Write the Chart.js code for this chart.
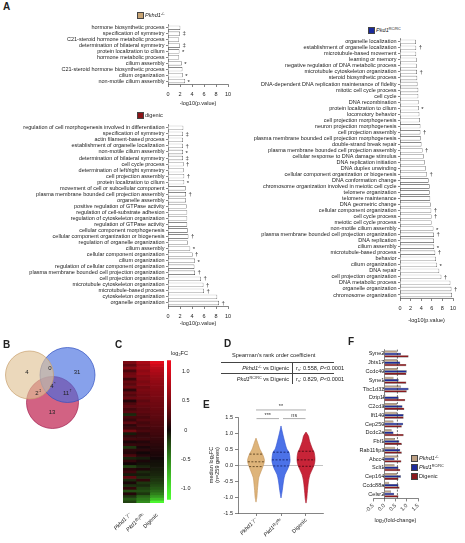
<!DOCTYPE html>
<html>
<head>
<meta charset="utf-8">
<script src="https://cdn.jsdelivr.net/npm/chart.js@4"></script>
<style>
body { margin: 0; background: #fff; }
#fig { position: relative; width: 465px; height: 543px; overflow: hidden; font-family: 'Liberation Sans', Arial, sans-serif; color: #222; }
#fig canvas { position: absolute; }
.lt { position: absolute; font-weight: bold; font-size: 10px; line-height: 10px; }
.tx { position: absolute; font-size: 5.6px; line-height: 6px; white-space: nowrap; }
.tx sup { font-size: 3.8px; line-height: 0; vertical-align: 2px; }
.tx sub { font-size: 3.8px; line-height: 0; vertical-align: -1px; }
.sw { position: absolute; width: 5px; height: 5px; border: 0.6px solid #444; }
.hl { position: absolute; height: 0; border-top: 0.6px solid #444; }
.vl { position: absolute; width: 0; border-left: 0.6px solid #444; }
</style>
</head>
<body>
<div id="fig">
  <canvas id="cPkhd1" width="240" height="87" style="left:0;top:20px"></canvas>
  <canvas id="cDigenic" width="240" height="207" style="left:0;top:120px"></canvas>
  <canvas id="cPkd1" width="225" height="290" style="left:240px;top:34px"></canvas>
  <canvas id="cVenn" width="110" height="95" style="left:0;top:340px"></canvas>
  <canvas id="cHeat" width="60" height="188" style="left:110px;top:355px"></canvas>
  <canvas id="cScale" width="31" height="150" style="left:160px;top:355px"></canvas>
  <canvas id="cViolin" width="130" height="143" style="left:200px;top:400px"></canvas>
  <canvas id="cGenes" width="125" height="184" style="left:340px;top:340px"></canvas>

  <div class="lt" style="left:3px;top:2px">A</div>
  <div class="lt" style="left:3px;top:340px">B</div>
  <div class="lt" style="left:115px;top:340px">C</div>
  <div class="lt" style="left:224px;top:339px">D</div>
  <div class="lt" style="left:203px;top:400px">E</div>
  <div class="lt" style="left:348px;top:337px">F</div>

  <!-- legendas panel A -->
  <div class="sw" style="left:137px;top:12px;background:#c8a474"></div>
  <div class="tx" style="left:145px;top:12px"><i>Pkhd1</i><sup>-/-</sup></div>
  <div class="sw" style="left:137px;top:112px;background:#8b1518"></div>
  <div class="tx" style="left:145px;top:112px">digenic</div>
  <div class="sw" style="left:368px;top:27px;background:#1a2a9c"></div>
  <div class="tx" style="left:376px;top:27px"><i>Pkd1</i><sup>RC/RC</sup></div>

  <!-- escala del heatmap -->
  <div class="tx" style="left:171px;top:350px">log<sub>2</sub>FC</div>

  <!-- tabla D -->
  <div class="tx" style="left:232px;top:352px">Spearman's rank order coefficient</div>
  <div class="hl" style="left:221px;top:362px;width:113px"></div>
  <div class="hl" style="left:221px;top:373px;width:113px"></div>
  <div class="vl" style="left:292px;top:362px;height:22px"></div>
  <div class="tx" style="left:221px;top:365px;width:68px;text-align:right"><i>Pkhd1</i><sup>-/-</sup> vs Digenic</div>
  <div class="tx" style="left:296px;top:365px">r<sub>s</sub>: 0.558, <i>P</i>&lt;0.0001</div>
  <div class="tx" style="left:221px;top:376px;width:68px;text-align:right"><i>Pkd1</i><sup>RC/RC</sup> vs Digenic</div>
  <div class="tx" style="left:296px;top:376px">r<sub>s</sub>: 0.829, <i>P</i>&lt;0.0001</div>

  <!-- leyenda F -->
  <div class="sw" style="left:411px;top:455px;background:#bda084"></div>
  <div class="tx" style="left:419px;top:455px"><i>Pkhd1</i><sup>-/-</sup></div>
  <div class="sw" style="left:411px;top:464px;background:#1e2c9a"></div>
  <div class="tx" style="left:419px;top:464px"><i>Pkd1</i><sup>RC/RC</sup></div>
  <div class="sw" style="left:411px;top:473px;background:#8a1a1e"></div>
  <div class="tx" style="left:419px;top:473px">Digenic</div>
</div>

<script>
const FONT = "'Liberation Sans', Arial, sans-serif";
Chart.defaults.font.family = FONT;
Chart.defaults.font.size = 5.5;
Chart.defaults.color = '#222';
Chart.defaults.animation = false;
Chart.defaults.responsive = false;
Chart.defaults.plugins.legend.display = false;
Chart.defaults.plugins.tooltip.enabled = false;

// --- DATOS PANEL A (-log10 p) ---
const pkhd1Terms = ['hormone biosynthetic process', 'specification of symmetry', 'C21-steroid hormone metabolic process',
  'determination of bilateral symmetry', 'protein localization to cilium', 'hormone metabolic process', 'cilium assembly',
  'C21-steroid hormone biosynthetic process', 'cilium organization', 'non-motile cilium assembly'];
const pkhd1Values = [2.05, 2.0, 1.85, 2.0, 1.9, 1.85, 2.3, 2.4, 2.45, 2.85];
const pkhd1Marks = ['', '‡', '', '‡', '*', '', '*', '', '*', '*'];

const digenicTerms = ['regulation of cell morphogenesis involved in differentiation', 'specification of symmetry',
  'actin filament-based process', 'establishment of organelle localization', 'non-motile cilium assembly',
  'determination of bilateral symmetry', 'cell cycle process', 'determination of left/right symmetry',
  'cell projection assembly', 'protein localization to cilium', 'movement of cell or subcellular component',
  'plasma membrane bounded cell projection assembly', 'organelle assembly', 'positive regulation of GTPase activity',
  'regulation of cell-substrate adhesion', 'regulation of cytoskeleton organization', 'regulation of GTPase activity',
  'cellular component morphogenesis', 'cellular component organization or biogenesis', 'regulation of organelle organization',
  'cilium assembly', 'cellular component organization', 'cilium organization', 'regulation of cellular component organization',
  'plasma membrane bounded cell projection organization', 'cell projection organization', 'microtubule cytoskeleton organization',
  'microtubule-based process', 'cytoskeleton organization', 'organelle organization'];
const digenicValues = [2.55, 2.5, 2.5, 2.5, 2.5, 2.5, 2.6, 2.6, 2.7, 2.7, 2.95, 3.0, 3.0, 3.1, 3.2, 3.2, 3.2, 3.3, 3.4, 3.3,
  3.7, 4.1, 4.5, 4.4, 4.5, 5.5, 5.9, 6.0, 8.2, 8.5];
const digenicMarks = ['', '‡', '', '†', '*', '‡', '†', '', '†', '*', '', '†', '', '', '', '', '', '', '†', '',
  '*', '†', '*', '', '†', '†', '†', '†', '', '†'];

const pkd1Terms = ['organelle localization', 'establishment of organelle localization', 'microtubule-based movement',
  'learning or memory', 'negative regulation of DNA metabolic process', 'microtubule cytoskeleton organization',
  'steroid biosynthetic process', 'DNA-dependent DNA replication maintenance of fidelity', 'mitotic cell cycle process',
  'cell cycle', 'DNA recombination', 'protein localization to cilium', 'locomotory behavior', 'cell projection morphogenesis',
  'neuron projection morphogenesis', 'cell projection assembly', 'plasma membrane bounded cell projection morphogenesis',
  'double-strand break repair', 'plasma membrane bounded cell projection assembly', 'cellular response to DNA damage stimulus',
  'DNA replication initiation', 'DNA duplex unwinding', 'cellular component organization or biogenesis',
  'DNA conformation change', 'chromosome organization involved in meiotic cell cycle', 'telomere organization',
  'telomere maintenance', 'DNA geometric change', 'cellular component organization', 'cell cycle process',
  'meiotic cell cycle process', 'non-motile cilium assembly', 'plasma membrane bounded cell projection organization',
  'DNA replication', 'cilium assembly', 'microtubule-based process', 'behavior', 'cilium organization', 'DNA repair',
  'cell projection organization', 'DNA metabolic process', 'organelle organization', 'chromosome organization'];
const pkd1Values = [3.0, 3.05, 3.05, 3.15, 3.15, 3.2, 3.25, 3.3, 3.45, 3.45, 3.5, 3.55, 3.65, 3.75, 3.85, 3.85, 3.9,
  4.05, 4.25, 4.5, 4.7, 4.9, 5.1, 5.4, 5.6, 5.6, 5.7, 5.8, 5.9, 5.95, 5.95, 6.3, 6.4, 6.4, 6.45, 6.65, 6.8, 7.0, 7.4,
  7.8, 9.5, 9.7, 9.8];
const pkd1Marks = ['', '†', '', '', '', '†', '', '', '', '', '', '*', '', '', '', '†', '', '', '†', '', '', '', '†', '',
  '', '', '', '', '†', '†', '', '*', '†', '', '*', '†', '', '*', '', '†', '', '†', ''];

// --- DATOS PANEL B (Venn) ---
const vennNames = ['Pkhd1', 'Pkd1', 'Digenic'];
const vennCx = [29.5, 67.5, 52.5];
const vennCy = [60, 60, 32.5];
const vennR = [24, 27.5, 26];
const vennCounts = ['4', '0', '31', '4', '2', '11', '13'];
const vennMarks = ['', '', '', '*', '‡', '†', ''];
const vennLabelX = [27, 50, 77, 52, 37, 66, 52];
const vennLabelY = [63, 67, 63, 49, 42, 42, 23];

// --- DATOS PANEL C (log2FC, ordenado por digenic) ---
const heatColumns = ['Pkhd1⁻/⁻', 'Pkd1ᴿᶜ/ᴿᶜ', 'Digenic'];
const heatPkhd1 = [0.45, 0.3, 0.5, 0.2, 0.38, 0.42, 0.15, 0.35, 0.28, 0.4, 0.1, 0.32, 0.25, 0.36, 0.05, 0.22, 0.3, 0.18,
  0.27, -0.1, 0.2, 0.12, 0.3, 0.08, 0.15, 0.4, -0.05, 0.1, 0.18, 0.02, 0.12, -0.15, 0.08, 0.05, 0.2, -0.08, 0.1, 0.0,
  -0.2, 0.06, 0.15, -0.05, 0.3, -0.1, 0.02, -0.12, 0.1, -0.25, 0.05, -0.15, -0.3, -0.2];
const heatPkd1 = [0.7, 0.6, 0.65, 0.55, 0.6, 0.5, 0.52, 0.45, 0.5, 0.4, 0.45, 0.42, 0.38, 0.4, 0.3, 0.36, 0.32, 0.28, 0.3,
  0.25, 0.2, 0.26, 0.18, 0.22, 0.15, 0.2, 0.1, 0.12, 0.15, 0.05, 0.1, 0.02, 0.08, 0.0, 0.05, -0.05, 0.02, -0.02, -0.08,
  0.03, -0.1, -0.05, -0.12, 0.1, -0.15, -0.1, -0.2, -0.25, -0.15, -0.35, -0.45, -0.55];
const heatDigenic = [1.05, 0.92, 0.82, 0.75, 0.7, 0.65, 0.61, 0.58, 0.55, 0.52, 0.5, 0.48, 0.46, 0.43, 0.41, 0.39, 0.37,
  0.35, 0.33, 0.31, 0.29, 0.27, 0.25, 0.23, 0.2, 0.18, 0.16, 0.14, 0.12, 0.1, 0.08, 0.06, 0.05, 0.03, 0.02, 0.0, -0.01,
  -0.02, -0.03, -0.05, -0.07, -0.09, -0.12, -0.15, -0.19, -0.24, -0.3, -0.38, -0.48, -0.62, -0.8, -1.1];
const scaleTicks = [-1, -0.5, 0, 0.5, 1];

// --- DATOS PANEL E (violines) ---
const eGroups = ['Pkhd1⁻/⁻', 'Pkd1ᴿᶜ/ᴿᶜ', 'Digenic'];
const tanLevels = [0.84, 0.75, 0.6, 0.5, 0.34, 0.15, 0.0, -0.2, -0.4, -0.6, -0.8, -1.0, -1.16];
const tanDensity = [0, 0.12, 0.3, 0.42, 0.72, 0.94, 0.83, 0.56, 0.3, 0.22, 0.15, 0.1, 0];
const blueLevels = [1.22, 1.1, 1.0, 0.75, 0.5, 0.4, 0.2, 0.1, -0.1, -0.3, -0.5, -0.8, -1.03];
const blueDensity = [0, 0.09, 0.17, 0.39, 0.64, 0.89, 1.0, 1.0, 0.78, 0.44, 0.28, 0.14, 0];
const redLevels = [1.03, 0.9, 0.75, 0.5, 0.4, 0.2, 0.05, -0.1, -0.3, -0.5, -0.7, -0.9, -1.05, -1.19];
const redDensity = [0, 0.28, 0.4, 0.72, 0.9, 1.0, 0.95, 0.75, 0.44, 0.28, 0.2, 0.13, 0.09, 0];
const eQ1 = [-0.05, -0.03, -0.04];
const eMedian = [0.1, 0.16, 0.16];
const eQ3 = [0.34, 0.4, 0.43];
const eSig = [['**', 1, 3, 1.72], ['***', 1.02, 1.92, 1.45], ['ns', 2.08, 2.98, 1.45]];

// --- DATOS PANEL F (log2 fold-change) ---
const fGenes = ['Syne2', 'Jbts17', 'Ccdc40', 'Syne1', 'Tbc1d32', 'Dzip1l', 'C2cd3', 'Ift140', 'Cep250', 'Dcdc2a', 'Fbf1',
  'Rab11fip3', 'Abcc4', 'Sclt1', 'Cep164', 'Ccdc88a', 'Celsr2'];
const fPkhd1 = [0.56, 0.59, 0.59, 0.41, 0.74, 0.05, 0.56, 0.56, 0.41, 0.33, 0.48, 0.49, 0.63, 0.46, 0.56, 0.22, 0.3];
const fPkd1 = [0.74, 0.71, 1.0, 0.64, 1.08, 0.64, 0.81, 0.86, 0.84, 0.41, 0.67, 0.71, 0.46, 0.63, 0.74, 0.63, 0.44];
const fDigenic = [1.08, 0.98, 0.98, 0.98, 1.0, 0.93, 0.89, 0.86, 0.78, 0.86, 0.78, 0.78, 0.76, 0.71, 0.63, 0.68, 0.63];
const fThreshold = 0.585;

// --- AUXILIARES ---
const axisGrid = { drawOnChartArea: false, tickLength: 3, color: '#333', lineWidth: 0.6 };
const axisBorder = { color: '#333', width: 0.6 };

function markPlugin(marks) {
  return {
    id: 'marks',
    afterDatasetsDraw(chart) {
      const ctx = chart.ctx;
      const bars = chart.getDatasetMeta(0).data;
      ctx.save();
      ctx.font = '6px ' + FONT;
      ctx.fillStyle = '#222';
      ctx.textBaseline = 'middle';
      marks.forEach((m, i) => {
        if (m) ctx.fillText(m, bars[i].x + 2.5, bars[i].y + (m === '*' ? 1.2 : 0));
      });
      ctx.restore();
    }
  };
}

function goChart(id, terms, values, marks, box) {
  return new Chart(document.getElementById(id), {
    type: 'bar',
    data: {
      labels: terms,
      datasets: [{
        data: values,
        backgroundColor: '#fff',
        borderColor: '#333',
        borderWidth: 0.6,
        barPercentage: 0.72,
        categoryPercentage: 1
      }]
    },
    options: {
      indexAxis: 'y',
      layout: { padding: { top: 4, right: box.right, left: 0, bottom: 0 } },
      scales: {
        x: {
          min: 0, max: 10,
          ticks: { stepSize: 2, padding: 4, autoSkip: false, maxRotation: 0, minRotation: 0 },
          grid: axisGrid,
          border: axisBorder,
          title: { display: true, text: '-log10(p.value)', padding: 0 },
          afterFit: s => { s.height = box.xh; }
        },
        y: {
          ticks: { autoSkip: false, padding: 1.5 },
          grid: Object.assign({}, axisGrid, { offset: false, tickLength: 2 }),
          border: axisBorder,
          afterFit: s => { s.width = box.yw; }
        }
      }
    },
    plugins: [markPlugin(marks)]
  });
}

function fcColor(v) {
  const t = Math.max(-1, Math.min(1, v / 1.15));
  if (t >= 0) {
    const a = Math.pow(t, 0.8);
    return `rgb(${Math.round(18 + 222 * a)},${Math.round(6 + 6 * a)},${Math.round(8 + 22 * a)})`;
  }
  const a = Math.pow(-t, 0.85);
  return `rgb(${Math.round(18 + 60 * a)},${Math.round(10 + 245 * a)},${Math.round(8 + 40 * a)})`;
}

// --- PANEL A ---
goChart('cPkhd1', pkhd1Terms, pkhd1Values, pkhd1Marks, { right: 12, xh: 23, yw: 168 });
goChart('cDigenic', digenicTerms, digenicValues, digenicMarks, { right: 12, xh: 21, yw: 168 });
goChart('cPkd1', pkd1Terms, pkd1Values, pkd1Marks, { right: 12, xh: 26, yw: 160 });

// --- PANEL B ---
const vennFill = ['rgba(225,195,150,0.65)', 'rgba(70,110,225,0.65)', 'rgba(195,45,90,0.75)'];
const vennLine = ['rgba(200,160,110,1)', '#3050c0', '#a02050'];
new Chart(document.getElementById('cVenn'), {
  type: 'bubble',
  data: {
    datasets: vennNames.map((name, i) => ({
      label: name,
      data: [{ x: vennCx[i], y: vennCy[i], r: vennR[i] }],
      backgroundColor: vennFill[i],
      borderColor: vennLine[i],
      borderWidth: 0.7,
      order: i,
      clip: false
    }))
  },
  options: {
    layout: { padding: 0, autoPadding: false },
    scales: {
      x: { display: false, min: 0, max: 110 },
      y: { display: false, min: 0, max: 95 }
    }
  },
  plugins: [{
    id: 'vennText',
    afterDatasetsDraw(chart) {
      const { ctx, scales: { x, y } } = chart;
      ctx.save();
      ctx.fillStyle = '#222';
      ctx.textBaseline = 'middle';
      vennCounts.forEach((n, i) => {
        const px = x.getPixelForValue(vennLabelX[i]);
        const py = y.getPixelForValue(vennLabelY[i]);
        ctx.font = '6px ' + FONT;
        ctx.textAlign = 'center';
        ctx.fillText(n, px, py);
        if (vennMarks[i]) {
          const w = ctx.measureText(n).width;
          ctx.font = '4px ' + FONT;
          ctx.textAlign = 'left';
          ctx.fillText(vennMarks[i], px + w / 2 + 0.3, py - 1.8);
        }
      });
      ctx.restore();
    }
  }]
});

// --- PANEL C ---
const heatRows = heatDigenic.map((d, i) => [heatPkhd1[i], heatPkd1[i], d]);
new Chart(document.getElementById('cHeat'), {
  type: 'bar',
  data: {
    labels: heatColumns,
    datasets: heatRows.map((row, i) => ({
      data: row.map(() => [i, i + 1]),
      backgroundColor: row.map(fcColor),
      borderWidth: 0,
      grouped: false,
      barPercentage: 1,
      categoryPercentage: 1
    }))
  },
  options: {
    layout: { padding: { top: 6, left: 13, right: 6, bottom: 0 } },
    scales: {
      x: {
        ticks: {
          minRotation: 45, maxRotation: 45, padding: 1,
          font: c => ({ size: 5.5, style: c.index < 2 ? 'italic' : 'normal' })
        },
        grid: { display: false },
        border: { display: false },
        afterFit: s => { s.height = 40; }
      },
      y: { display: false, min: 0, max: heatRows.length, reverse: true }
    }
  }
});

new Chart(document.getElementById('cScale'), {
  type: 'bar',
  data: {
    labels: ['log2FC'],
    datasets: [{
      data: [[-1.2, 1.2]],
      barPercentage: 1,
      categoryPercentage: 1,
      borderWidth: 0,
      backgroundColor: c => {
        const area = c.chart.chartArea;
        if (!area) return '#000';
        const g = c.chart.ctx.createLinearGradient(0, area.bottom, 0, area.top);
        for (let k = 0; k <= 12; k++) g.addColorStop(k / 12, fcColor(-1.2 + k * 0.2));
        return g;
      }
    }]
  },
  options: {
    layout: { padding: { top: 5, left: 7, right: 0, bottom: 2 } },
    scales: {
      x: { display: false },
      y: {
        position: 'right',
        min: -1.2, max: 1.2,
        afterBuildTicks: s => { s.ticks = scaleTicks.map(v => ({ value: v })); },
        ticks: { padding: 2, crossAlign: 'center', callback: v => (v === 0 ? '0' : v.toFixed(1)) },
        grid: { display: false },
        border: { display: false },
        afterFit: s => { s.width = 20; }
      }
    }
  }
});

// --- PANEL E ---
const VW = 0.36;
const violinLevels = [tanLevels, blueLevels, redLevels];
const violinDensity = [tanDensity, blueDensity, redDensity];
const violinFill = ['rgb(222,180,122)', 'rgb(76,114,232)', 'rgb(200,36,56)'];
const violinEdge = ['rgb(196,150,92)', 'rgb(46,80,210)', 'rgb(165,20,38)'];
const violinDash = ['#4a3414', '#101c60', '#3a060c'];

function halfWidth(levels, dens, v) {
  for (let i = 0; i < levels.length - 1; i++) {
    if (v <= levels[i] && v >= levels[i + 1]) {
      const f = (levels[i] - v) / (levels[i] - levels[i + 1]);
      return (dens[i] + f * (dens[i + 1] - dens[i])) * VW;
    }
  }
  return 0;
}

const eSets = [];
violinLevels.forEach((levels, g) => {
  const c = g + 1;
  const dens = violinDensity[g];
  const pts = levels.map((y, i) => ({ x: c + dens[i] * VW, y }));
  for (let i = levels.length - 1; i >= 0; i--) pts.push({ x: c - dens[i] * VW, y: levels[i] });
  eSets.push({
    data: pts, showLine: true, fill: 'shape', tension: 0.3, pointRadius: 0,
    backgroundColor: violinFill[g], borderColor: violinEdge[g], borderWidth: 0.6, order: 2
  });
  [eQ1[g], eMedian[g], eQ3[g]].forEach(q => {
    const w = halfWidth(levels, dens, q);
    eSets.push({
      data: [{ x: c - w, y: q }, { x: c + w, y: q }], showLine: true, pointRadius: 0,
      borderColor: violinDash[g], borderWidth: 0.8, borderDash: [2, 1.5], order: 1
    });
  });
});

new Chart(document.getElementById('cViolin'), {
  type: 'scatter',
  data: { datasets: eSets },
  options: {
    layout: { padding: { top: 17, right: 7, left: 0, bottom: 0 } },
    scales: {
      x: {
        min: 0.28, max: 3.68,
        afterBuildTicks: s => { s.ticks = [1, 2, 3].map(v => ({ value: v })); },
        ticks: {
          minRotation: 45, maxRotation: 45, padding: 1,
          callback: v => eGroups[v - 1],
          font: c => ({ size: 5.5, style: c.index < 2 ? 'italic' : 'normal' })
        },
        grid: axisGrid,
        border: axisBorder,
        afterFit: s => { s.height = 30; }
      },
      y: {
        min: -1.5, max: 1.5,
        ticks: { stepSize: 0.5, padding: 2, callback: v => v.toFixed(1) },
        grid: {
          color: c => (c.tick && c.tick.value === 0 ? '#9a9a9a' : 'rgba(0,0,0,0)'),
          tickColor: '#333', tickLength: 3, lineWidth: 0.6
        },
        border: axisBorder,
        title: { display: true, text: ['median log₂FC', '(n=259 genes)'], padding: { top: 8, bottom: 0 } },
        afterFit: s => { s.width = 38; }
      }
    }
  },
  plugins: [{
    id: 'brackets',
    afterDatasetsDraw(chart) {
      const { ctx, scales: { x, y } } = chart;
      ctx.save();
      ctx.strokeStyle = '#8a8a8a';
      ctx.lineWidth = 0.7;
      ctx.fillStyle = '#333';
      ctx.font = '5.5px ' + FONT;
      ctx.textAlign = 'center';
      ctx.textBaseline = 'bottom';
      eSig.forEach(([txt, a, b, lvl]) => {
        const py = y.getPixelForValue(lvl);
        const xa = x.getPixelForValue(a), xb = x.getPixelForValue(b);
        ctx.beginPath();
        ctx.moveTo(xa, py);
        ctx.lineTo(xb, py);
        ctx.stroke();
        ctx.fillText(txt, (xa + xb) / 2, py - 0.5);
      });
      ctx.restore();
    }
  }]
});

// --- PANEL F ---
const fColors = ['#bda084', '#1e2c9a', '#8a1a1e'];
new Chart(document.getElementById('cGenes'), {
  type: 'bar',
  data: {
    labels: fGenes,
    datasets: [fPkhd1, fPkd1, fDigenic].map((vals, k) => ({
      data: vals,
      backgroundColor: fColors[k],
      borderColor: '#222',
      borderWidth: 0.4,
      barPercentage: 1,
      categoryPercentage: 0.8
    }))
  },
  options: {
    indexAxis: 'y',
    layout: { padding: { top: 9.6, left: 33, right: 47, bottom: 0 } },
    scales: {
      x: {
        min: -0.5, max: 1.5,
        ticks: { stepSize: 0.5, minRotation: 45, maxRotation: 45, padding: 1, autoSkip: false, callback: v => v.toFixed(1) },
        grid: axisGrid,
        border: axisBorder,
        title: { display: true, text: 'log₂(fold-change)', padding: 0 },
        afterFit: s => { s.height = 25.6; }
      },
      y: {
        position: { x: 0 },
        ticks: { autoSkip: false, padding: 1.5 },
        grid: Object.assign({}, axisGrid, { offset: false, tickLength: 2 }),
        border: axisBorder
      }
    }
  },
  plugins: [{
    id: 'threshold',
    afterDatasetsDraw(chart) {
      const { ctx, chartArea, scales: { x } } = chart;
      const px = x.getPixelForValue(fThreshold);
      ctx.save();
      ctx.strokeStyle = '#333';
      ctx.lineWidth = 0.7;
      ctx.setLineDash([2, 1.5]);
      ctx.beginPath();
      ctx.moveTo(px, chartArea.top);
      ctx.lineTo(px, chartArea.bottom);
      ctx.stroke();
      ctx.restore();
    }
  }]
});
</script>
</body>
</html>
